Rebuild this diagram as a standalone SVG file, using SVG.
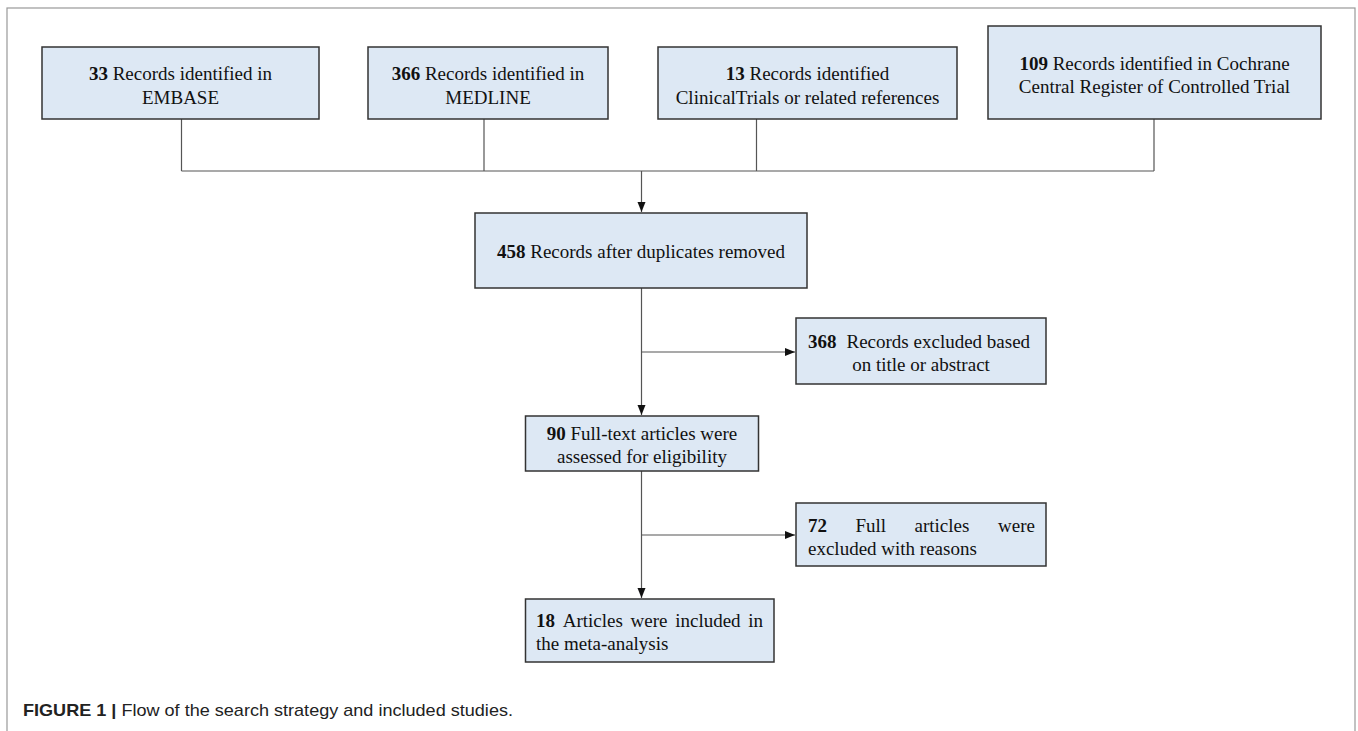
<svg xmlns="http://www.w3.org/2000/svg" width="1358" height="731" viewBox="0 0 1358 731">
<style>
.box{fill:#dde8f4;stroke:#333;stroke-width:1.5}
.t{font-family:"Liberation Serif","Times New Roman",serif;font-size:19px;fill:#111}
.b{font-weight:bold}
.ln{fill:none;stroke:#555;stroke-width:1.2}
.cap{font-family:"Liberation Sans",Arial,sans-serif;font-size:17px;fill:#222}
</style>
<defs>
<marker id="ah" markerUnits="userSpaceOnUse" markerWidth="10" markerHeight="10" viewBox="0 0 10 10" refX="10" refY="5" orient="auto">
<path d="M0,1 L10,5 L0,9 Z" fill="#111"/>
</marker>
</defs>
<rect x="7" y="8" width="1348" height="740" fill="#fff" stroke="#999" stroke-width="1.2"/>

<g id="connectors">
<path class="ln" d="M181.5,119 V171 M484,119 V171 M756.5,119 V171 M1154,119 V171 M181.5,171 H1154"/>
<path class="ln" d="M641.5,171 V212" marker-end="url(#ah)"/>
<path class="ln" d="M641.5,288 V415" marker-end="url(#ah)"/>
<path class="ln" d="M641.5,352 H795" marker-end="url(#ah)"/>
<path class="ln" d="M641.5,471 V598" marker-end="url(#ah)"/>
<path class="ln" d="M641.5,535 H795" marker-end="url(#ah)"/>
</g>

<g id="n1">
<rect class="box" x="42" y="47" width="277" height="72"/>
<text class="t" x="180.5" y="80" text-anchor="middle"><tspan class="b">33</tspan> Records identified in</text>
<text class="t" x="180.5" y="104" text-anchor="middle">EMBASE</text>
</g>
<g id="n2">
<rect class="box" x="368" y="47" width="240" height="72"/>
<text class="t" x="488" y="80" text-anchor="middle"><tspan class="b">366</tspan> Records identified in</text>
<text class="t" x="488" y="104" text-anchor="middle">MEDLINE</text>
</g>
<g id="n3">
<rect class="box" x="658" y="47" width="299" height="72"/>
<text class="t" x="807.5" y="80" text-anchor="middle"><tspan class="b">13</tspan> Records identified</text>
<text class="t" x="807.5" y="104" text-anchor="middle">ClinicalTrials or related references</text>
</g>
<g id="n4">
<rect class="box" x="988" y="26" width="333" height="93"/>
<text class="t" x="1154.5" y="70" text-anchor="middle"><tspan class="b">109</tspan> Records identified in Cochrane</text>
<text class="t" x="1154.5" y="93" text-anchor="middle">Central Register of Controlled Trial</text>
</g>
<g id="n5">
<rect class="box" x="475" y="213" width="332" height="75"/>
<text class="t" x="641" y="258" text-anchor="middle"><tspan class="b">458</tspan> Records after duplicates removed</text>
</g>
<g id="n6">
<rect class="box" x="796" y="318" width="250" height="66"/>
<text class="t" y="348"><tspan class="b" x="808">368</tspan><tspan x="846.5">Records excluded based</tspan></text>
<text class="t" x="921" y="371" text-anchor="middle">on title or abstract</text>
</g>
<g id="n7">
<rect class="box" x="525.5" y="416" width="233" height="55"/>
<text class="t" x="642" y="440" text-anchor="middle"><tspan class="b">90</tspan> Full-text articles were</text>
<text class="t" x="642" y="463" text-anchor="middle">assessed for eligibility</text>
</g>
<g id="n8">
<rect class="box" x="796" y="503" width="250" height="63"/>
<text class="t" y="532"><tspan class="b" x="808">72</tspan><tspan x="855.5">Full</tspan><tspan x="914.5">articles</tspan></text>
<text class="t" x="1035" y="532" text-anchor="end">were</text>
<text class="t" x="808" y="555">excluded with reasons</text>
</g>
<g id="n9">
<rect class="box" x="525.5" y="599" width="248.5" height="63"/>
<text class="t" y="627"><tspan class="b" x="536">18</tspan><tspan x="562.7">Articles</tspan><tspan x="630.6">were</tspan><tspan x="675.2">included</tspan></text>
<text class="t" x="763" y="627" text-anchor="end">in</text>
<text class="t" x="536" y="650">the meta-analysis</text>
</g>

<text class="cap" x="23" y="716" textLength="490" lengthAdjust="spacingAndGlyphs"><tspan font-weight="bold">FIGURE 1 |</tspan> Flow of the search strategy and included studies.</text>
</svg>
